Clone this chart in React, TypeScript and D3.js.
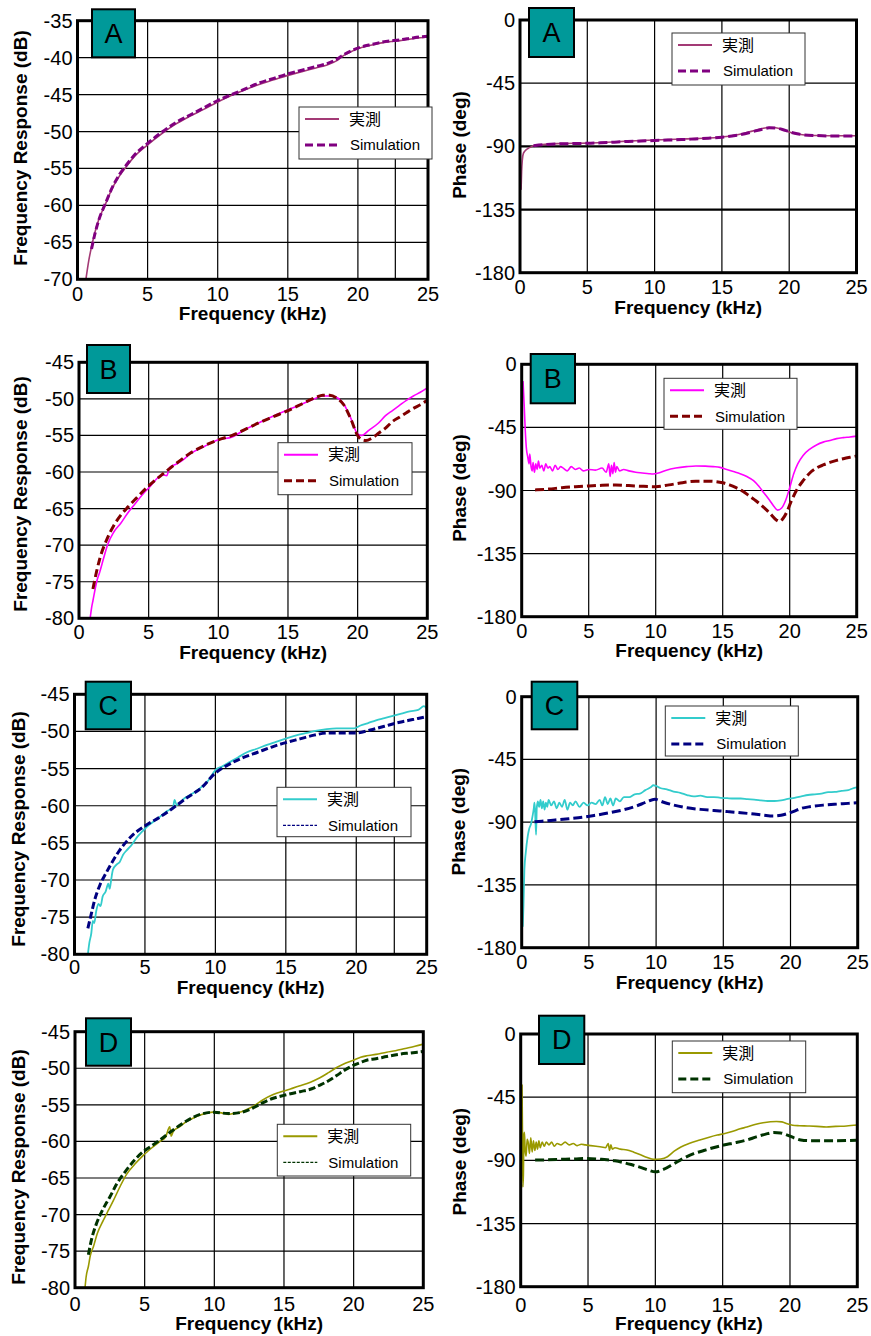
import React from 'react';
import * as d3 from 'd3';

type P = [number, number];

const freqTicks = [0, 5, 10, 15, 20, 25];
const magTicksA = [-70, -65, -60, -55, -50, -45, -40, -35];
const magTicksBCD = [-80, -75, -70, -65, -60, -55, -50, -45];
const phaseTicks = [-180, -135, -90, -45, 0];
const legendLabels = ['実測', 'Simulation'];
const xTitle = 'Frequency (kHz)';
const magTitle = 'Frequency Response (dB)';
const phaseTitle = 'Phase (deg)';

// ---------- A ----------
const aMagMeas: P[] = [[0.6,-70],[0.8,-67.5],[1.0,-65.6],[1.25,-63.6],[1.5,-62.0],[2.0,-59.8],[2.5,-57.6],[3.0,-56.0],[3.5,-54.7],[4.0,-53.5],[5.0,-51.8],[6.0,-50.3],[7.0,-49.0],[8.0,-47.95],[9.0,-47.0],[10.0,-46.0],[11.0,-45.1],[12.0,-44.3],[13.0,-43.6],[14.0,-43.0],[15.0,-42.4],[16.0,-41.9],[17.0,-41.4],[17.8,-41.0],[18.5,-40.4],[19.0,-39.7],[19.5,-39.2],[20.0,-38.8],[21.0,-38.3],[22.0,-37.9],[23.0,-37.7],[24.0,-37.4],[25.0,-37.2]];
const aMagSim: P[] = [[1.0,-65.9],[1.25,-63.8],[1.5,-62.1],[2,-59.7],[2.5,-57.5],[3,-55.8],[3.5,-54.5],[4,-53.3],[5,-51.6],[6,-50.1],[7,-48.8],[8,-47.8],[9,-46.8],[10,-45.8],[11,-45.0],[12,-44.2],[13,-43.4],[14,-42.8],[15,-42.2],[16,-41.7],[17,-41.2],[17.8,-40.8],[18.5,-40.2],[19,-39.6],[19.5,-39.1],[20,-38.7],[21,-38.2],[22,-37.8],[23,-37.6],[24,-37.3],[25,-37.1]];
const aPhMeas: P[] = [[0.08,-121],[0.12,-108],[0.17,-100],[0.25,-95],[0.4,-93],[0.6,-91.5],[0.8,-90.5],[1.0,-89.6],[1.5,-89.0],[2.0,-88.4],[3.0,-88.0],[4.0,-87.8],[5.0,-87.7],[6.0,-87.3],[7.0,-86.8],[8.0,-86.3],[9.0,-85.9],[10.0,-85.5],[11.0,-85.1],[12.0,-84.8],[13.0,-84.5],[14.0,-84.1],[15.0,-83.3],[15.5,-82.8],[16.0,-82.0],[16.5,-81.0],[17.0,-79.8],[17.5,-78.5],[18.0,-77.3],[18.5,-76.6],[19.0,-76.8],[19.5,-78.0],[20.0,-79.8],[20.5,-81.0],[21.0,-81.7],[22.0,-82.3],[23.0,-82.5],[24.0,-82.5],[25.0,-82.4]];
const aPhSim: P[] = [[1.0,-89.5],[2,-88.6],[3,-88.2],[4,-88],[5,-87.8],[6,-87.5],[7,-87],[8,-86.5],[9,-86.2],[10,-85.8],[11,-85.5],[12,-85.2],[13,-84.7],[14,-84.2],[15,-83.5],[16,-82.3],[17,-80.3],[17.5,-79],[18,-77.8],[18.5,-76.8],[19,-77],[19.5,-78],[20,-79.6],[20.5,-80.8],[21,-81.7],[22,-82.3],[23,-82.6],[24,-82.6],[25,-82.5]];

// ---------- B ----------
const bMagMeas: P[] = [[0.8,-80],[0.9,-78.6],[1.0,-77.6],[1.27,-75.0],[1.5,-73.6],[1.75,-71.9],[2.04,-70.0],[2.5,-68.2],[3.0,-67.0],[3.5,-65.6],[4.0,-64.4],[4.5,-63.2],[5.0,-62.2],[6.0,-60.4],[6.3,-60.5],[6.5,-59.4],[7.0,-58.9],[7.5,-58.3],[8.0,-57.5],[9.0,-56.5],[10.0,-55.6],[11.0,-55.2],[12.0,-54.1],[13.0,-53.2],[14.0,-52.3],[15.0,-51.5],[16.0,-50.7],[17.0,-49.9],[17.5,-49.6],[18.0,-49.6],[18.5,-49.8],[19.0,-50.7],[19.5,-52.6],[20.0,-54.8],[20.3,-55.0],[20.8,-54.3],[21.5,-53.3],[22.0,-52.3],[22.5,-51.6],[23.0,-50.9],[23.5,-50.2],[24.0,-49.6],[24.5,-49.1],[25.0,-48.5]];
const bMagSim: P[] = [[1.0,-76],[1.25,-73.7],[1.5,-71.8],[2.0,-69.2],[2.5,-67.3],[3.0,-65.9],[3.5,-64.8],[4.0,-63.8],[5.0,-61.9],[6.0,-60.3],[7.0,-58.8],[8.0,-57.4],[9.0,-56.4],[10.0,-55.6],[11.0,-55.0],[12.0,-54.1],[13.0,-53.2],[14.0,-52.4],[15.0,-51.6],[16.0,-50.7],[17.0,-49.8],[17.5,-49.5],[18.0,-49.5],[18.5,-49.9],[19.0,-50.8],[19.5,-52.7],[20.0,-55.0],[20.3,-55.6],[20.6,-55.7],[21.0,-55.4],[21.5,-54.7],[22.0,-54.0],[22.5,-53.1],[23.0,-52.5],[23.5,-51.9],[24.0,-51.3],[24.5,-50.8],[25.0,-50.2]];
const bPhMeas: P[] = [[0.1,-12],[0.18,-28],[0.26,-46],[0.35,-60],[0.45,-66],[0.55,-71],[0.6,-64],[0.7,-73],[0.78,-76],[0.85,-70],[0.95,-77],[1.05,-71],[1.15,-75],[1.25,-69],[1.35,-74],[1.5,-72],[1.65,-76],[1.8,-71],[1.95,-74],[2.1,-73],[2.3,-76],[2.5,-72],[2.7,-75],[2.9,-73],[3.1,-74],[3.4,-76],[3.7,-73],[4.0,-75],[4.3,-74],[4.6,-76],[5.0,-75],[5.5,-75.5],[6.0,-74],[6.3,-77],[6.5,-71],[6.6,-80],[6.7,-72],[6.8,-78],[6.9,-70],[7.0,-77],[7.1,-73],[7.3,-76],[7.6,-75],[8.0,-76],[8.5,-77],[9.0,-77.5],[9.5,-78],[9.8,-78.2],[10.2,-77.5],[10.8,-75.5],[11.5,-74],[12.3,-73],[13.0,-72.5],[13.7,-72.6],[14.3,-73],[14.8,-73.5],[15.3,-75],[15.8,-76.5],[16.3,-78],[16.8,-80],[17.3,-83],[17.7,-87],[18.1,-92],[18.5,-97],[18.8,-101],[19.1,-104],[19.4,-102.5],[19.7,-97],[20.0,-88],[20.3,-78],[20.6,-71],[21.0,-65],[21.5,-60.5],[22.0,-57.5],[22.5,-55.5],[23.0,-54.3],[23.5,-53],[24.0,-52.3],[24.5,-51.8],[25.0,-51.2]];
const bPhSim: P[] = [[1.0,-89.6],[2,-89],[3,-88],[4,-87.3],[5,-86.8],[6,-86.3],[7,-86.1],[8,-86.5],[9,-87],[10,-87.3],[11,-86],[12,-84.4],[13,-83.4],[14,-83.4],[15,-84.5],[15.5,-86],[16,-88],[16.5,-90.5],[17,-94],[17.5,-97.5],[18,-101.5],[18.5,-106],[19.0,-111],[19.2,-112],[19.5,-110],[19.8,-105],[20.1,-98],[20.5,-90],[21,-83],[21.5,-77.5],[22,-74],[22.5,-71.8],[23,-70],[23.5,-68.5],[24,-67.3],[24.5,-66.3],[25,-65.4]];

// ---------- C ----------
const cMagMeas: P[] = [[0.95,-80],[1.05,-78.5],[1.19,-77.2],[1.3,-75.5],[1.4,-75.8],[1.54,-74.2],[1.7,-73.2],[1.85,-73.5],[2.0,-72.2],[2.2,-71.6],[2.4,-70.5],[2.5,-71.2],[2.6,-70],[2.73,-68.6],[3.0,-67.9],[3.2,-67.6],[3.45,-66.6],[3.7,-66.0],[4.0,-65.4],[4.16,-65],[4.5,-64.1],[4.8,-63.5],[5.1,-62.9],[5.5,-62.3],[6.06,-61.5],[6.5,-60.8],[7.0,-60.2],[7.1,-59.2],[7.25,-59.9],[7.8,-59],[8.44,-58.3],[9.0,-57.5],[9.5,-56.6],[10.0,-55.2],[10.5,-54.7],[11.05,-54.1],[11.6,-53.5],[12.24,-52.8],[13.0,-52.3],[13.66,-51.8],[14.3,-51.4],[15.1,-50.9],[15.8,-50.5],[16.5,-50.2],[17.2,-49.9],[17.9,-49.7],[18.6,-49.6],[19.2,-49.6],[19.84,-49.6],[20.3,-49.2],[20.8,-48.9],[21.4,-48.5],[22.0,-48.2],[22.6,-47.9],[23.2,-47.6],[23.8,-47.3],[24.4,-47.1],[24.8,-46.6],[25.0,-46.9]];
const cMagSim: P[] = [[0.95,-76.5],[1.2,-74.5],[1.43,-72.7],[1.8,-70.7],[2.26,-69.0],[2.7,-67.5],[3.2,-66.0],[3.7,-64.8],[4.16,-63.9],[5.1,-62.6],[6.0,-61.6],[7.0,-60.3],[8.0,-58.9],[9.0,-57.6],[10.0,-55.6],[11.0,-54.4],[12.0,-53.5],[13.0,-52.8],[14.0,-52.1],[15.0,-51.5],[16.0,-51.0],[17.0,-50.5],[18.0,-50.2],[19.0,-50.2],[20.0,-50.2],[21.0,-49.8],[22.0,-49.3],[23.0,-48.8],[24.0,-48.4],[25.0,-48.0]];
const cPhMeas: P[] = [[0.08,-165],[0.13,-150],[0.2,-124],[0.3,-112],[0.45,-100],[0.55,-95],[0.7,-91],[0.8,-86],[0.9,-80],[0.95,-76],[1.0,-83],[1.07,-99],[1.12,-80],[1.2,-75],[1.3,-79],[1.4,-74],[1.5,-80],[1.6,-75],[1.7,-81],[1.8,-76],[1.9,-79],[2.0,-74],[2.2,-78],[2.4,-75],[2.6,-80],[2.8,-76],[3.0,-79],[3.2,-74],[3.4,-81],[3.6,-76],[3.8,-78],[4.0,-75],[4.3,-79],[4.6,-76],[4.9,-78],[5.2,-76],[5.5,-77],[5.8,-74],[6.0,-78],[6.2,-72],[6.4,-77],[6.6,-73],[6.8,-78],[7.0,-73],[7.3,-75],[7.6,-72],[8.0,-72],[8.4,-70],[8.8,-69.5],[9.2,-67],[9.6,-65],[9.8,-63.5],[10.0,-64],[10.3,-65.5],[10.8,-66.5],[11.3,-68],[11.8,-69],[12.3,-70.5],[12.8,-71.5],[13.3,-71],[13.8,-72],[14.3,-72],[14.8,-72.5],[15.3,-72.8],[15.8,-73],[16.3,-73],[16.8,-73.5],[17.3,-73.8],[17.8,-74.3],[18.3,-74.8],[18.8,-74.8],[19.3,-74.3],[19.8,-73.3],[20.3,-72.5],[20.8,-71.5],[21.3,-70.5],[21.8,-70],[22.3,-69.5],[22.8,-68.5],[23.3,-68.3],[23.8,-67.5],[24.3,-67],[24.7,-65.5],[25.0,-65]];
const cPhSim: P[] = [[0.95,-89.6],[1.5,-89.3],[2.5,-88.4],[3.5,-87.5],[4.5,-86.5],[5.5,-85],[6.5,-83.3],[7.5,-81.3],[8.5,-78.5],[9.3,-75.5],[9.9,-73.6],[10.5,-75.5],[11.3,-77.7],[12.3,-79.7],[13.3,-80.8],[14.3,-81.6],[15.3,-82.4],[16.3,-83.2],[17.3,-84.2],[18.0,-85],[18.7,-85.6],[19.3,-85],[19.8,-83.7],[20.3,-82],[20.8,-80.1],[21.5,-78.8],[22.5,-77.7],[23.5,-77],[24.3,-76.5],[25,-76]];

// ---------- D ----------
const dMagMeas: P[] = [[0.72,-80],[0.8,-78.5],[0.96,-77.1],[1.1,-75.6],[1.32,-74.4],[1.6,-72.6],[2.03,-70.8],[2.4,-69.4],[2.75,-68.1],[3.2,-66.3],[3.7,-64.5],[4.3,-63.1],[4.9,-61.9],[5.5,-60.9],[6.1,-60.0],[6.5,-59.4],[6.8,-58.0],[6.9,-59.3],[7.06,-58.6],[7.5,-58.0],[8.0,-57.3],[8.5,-56.8],[9.0,-56.4],[9.5,-56.1],[9.93,-56.0],[10.5,-56.1],[11.0,-56.3],[11.36,-56.2],[12.0,-55.9],[12.8,-55.2],[13.5,-54.3],[14.23,-53.6],[15.0,-53.1],[15.5,-52.8],[16.15,-52.4],[16.9,-51.9],[17.58,-51.3],[18.2,-50.6],[18.78,-49.9],[19.4,-49.3],[19.98,-48.9],[20.5,-48.5],[20.93,-48.3],[21.6,-48.1],[22.37,-47.8],[23.0,-47.6],[23.7,-47.3],[24.4,-47.0],[25.0,-46.7]];
const dMagSim: P[] = [[0.96,-75.5],[1.2,-73.3],[1.55,-71.2],[2.0,-69.3],[2.5,-67.6],[3.0,-65.8],[3.7,-63.9],[4.3,-62.5],[4.9,-61.4],[5.5,-60.6],[6.1,-59.8],[7.0,-58.5],[8.0,-57.2],[9.0,-56.3],[10.0,-56.0],[11.0,-56.2],[12.0,-56.0],[12.8,-55.4],[13.5,-54.7],[14.23,-54.1],[15.0,-53.7],[16.15,-53.2],[17.0,-52.8],[17.58,-52.3],[18.2,-51.7],[18.78,-51.0],[19.4,-50.2],[19.98,-49.6],[20.5,-49.2],[20.93,-48.9],[21.6,-48.7],[22.37,-48.4],[23.2,-48.1],[24.1,-47.9],[25.0,-47.7]];
const dPhMeas: P[] = [[0.1,-36],[0.13,-70],[0.16,-109],[0.2,-100],[0.24,-72],[0.28,-70],[0.33,-83],[0.4,-87],[0.48,-75],[0.57,-78],[0.65,-85],[0.75,-74],[0.85,-84],[0.95,-76],[1.05,-83],[1.15,-77],[1.25,-82],[1.35,-76],[1.45,-81],[1.6,-77],[1.75,-80],[1.9,-77],[2.1,-79],[2.3,-77],[2.5,-80],[2.7,-78],[3.0,-79],[3.3,-77],[3.6,-79],[3.9,-78],[4.2,-79.5],[4.5,-78.5],[4.8,-79],[5.2,-79.5],[5.6,-80],[6.0,-80.5],[6.3,-81],[6.5,-78],[6.6,-83],[6.7,-79],[6.8,-82],[7.0,-81],[7.4,-82],[7.9,-82.6],[8.4,-84.2],[8.9,-86],[9.4,-88],[9.9,-89.3],[10.4,-89],[10.9,-87.4],[11.4,-83.5],[11.9,-80.5],[12.5,-78],[13.3,-75.5],[14.0,-73.5],[14.6,-72],[15.1,-71],[15.7,-69.5],[16.3,-67.5],[16.8,-66.3],[17.4,-64.5],[18.0,-63.2],[18.55,-62.5],[19.0,-62.3],[19.4,-62.6],[19.8,-64],[20.2,-65],[20.7,-65.3],[21.3,-65.5],[22,-65.8],[22.7,-66.2],[23.4,-65.8],[24.2,-65.5],[25,-64.8]];
const dPhSim: P[] = [[1.07,-89.8],[2,-89.6],[3,-89.3],[4,-89],[4.9,-88.6],[6,-89.3],[7,-90.3],[7.6,-91.5],[8.2,-93],[8.9,-95],[9.5,-97],[10,-98.2],[10.6,-96.5],[11.36,-92.5],[12.1,-88.5],[12.85,-85.2],[13.6,-83],[14.3,-81],[15.08,-79.1],[15.9,-77.5],[16.8,-75.5],[17.5,-73.3],[18.2,-71.3],[18.8,-70.2],[19.3,-70.5],[19.8,-72],[20.3,-74],[20.8,-75.5],[21.5,-76],[22.5,-76],[23.5,-76],[25,-75.7]];

const colors = {
  A: { meas: '#A33A75', sim: '#800080' },
  B: { meas: '#FF00FF', sim: '#800000' },
  C: { meas: '#33CCCC', sim: '#000080' },
  D: { meas: '#999900', sim: '#003300' },
};

type Cfg = {
  letter: 'A' | 'B' | 'C' | 'D';
  kind: 'mag' | 'phase';
  x0: number; x1: number; y0: number; y1: number;
  yDomain: [number, number];
  yTicks: number[];
  meas: P[]; sim: P[];
  label: [number, number, number, number];
  legend: [number, number, number, number];
  yTitle: [number, number];
  xTickDy: number; xTitleDy: number;
  extraX?: number[];
  thickY?: number[];
  thinLegend?: boolean;
  measW: number;
  simDash: string;
};

const panels: Cfg[] = [
  { letter: 'A', kind: 'mag', x0: 77.5, x1: 428, y0: 20.7, y1: 279.3, yDomain: [-70, -35], yTicks: magTicksA, meas: aMagMeas, sim: aMagSim, label: [92, 9.3, 43, 48], legend: [299, 107, 133, 52], yTitle: [27, 148], xTickDy: 22, xTitleDy: 41, extraX: [22.67], measW: 1.6, simDash: '7,3' },
  { letter: 'A', kind: 'phase', x0: 520, x1: 856.5, y0: 20, y1: 272.7, yDomain: [-180, 0], yTicks: phaseTicks, meas: aPhMeas, sim: aPhSim, label: [529, 8, 45, 49], legend: [672, 33, 133, 52], yTitle: [465.5, 145], xTickDy: 21, xTitleDy: 41, thickY: [-90, -135], measW: 1.6, simDash: '9,4' },
  { letter: 'B', kind: 'mag', x0: 79, x1: 427.3, y0: 362.3, y1: 618.3, yDomain: [-80, -45], yTicks: magTicksBCD, meas: bMagMeas, sim: bMagSim, label: [87, 345, 43, 48], legend: [278, 442.7, 134, 52], yTitle: [26.5, 494], xTickDy: 21, xTitleDy: 41, measW: 1.6, simDash: '8,4' },
  { letter: 'B', kind: 'phase', x0: 521.7, x1: 856.7, y0: 364.3, y1: 616.7, yDomain: [-180, 0], yTicks: phaseTicks, meas: bPhMeas, sim: bPhSim, label: [530.7, 354, 44.3, 49.3], legend: [664, 378.3, 133, 51], yTitle: [466.3, 488], xTickDy: 21, xTitleDy: 40.5, measW: 1.6, simDash: '9,4' },
  { letter: 'C', kind: 'mag', x0: 74.5, x1: 426.7, y0: 694.3, y1: 954.3, yDomain: [-80, -45], yTicks: magTicksBCD, meas: cMagMeas, sim: cMagSim, label: [85.7, 681.7, 45.3, 47.6], legend: [277, 787.3, 134, 49.4], yTitle: [25.3, 829], xTickDy: 20, xTitleDy: 39.5, extraX: [22.7], thinLegend: true, measW: 1.8, simDash: '7,3' },
  { letter: 'C', kind: 'phase', x0: 521.7, x1: 857.7, y0: 696.7, y1: 947.7, yDomain: [-180, 0], yTicks: phaseTicks, meas: cPhMeas, sim: cPhSim, label: [531.7, 681.7, 45.6, 47.6], legend: [665.3, 706, 133, 50], yTitle: [465.3, 821.7], xTickDy: 21, xTitleDy: 41, measW: 1.8, simDash: '9,4' },
  { letter: 'D', kind: 'mag', x0: 75, x1: 423.3, y0: 1031.7, y1: 1287.7, yDomain: [-80, -45], yTicks: magTicksBCD, meas: dMagMeas, sim: dMagSim, label: [86, 1018.3, 45, 47.4], legend: [277.3, 1124.3, 133.4, 51.7], yTitle: [25.3, 1167], xTickDy: 23, xTitleDy: 42, thinLegend: true, measW: 1.6, simDash: '7,3' },
  { letter: 'D', kind: 'phase', x0: 520.7, x1: 857.3, y0: 1034, y1: 1286.7, yDomain: [-180, 0], yTicks: phaseTicks, meas: dPhMeas, sim: dPhSim, label: [539, 1015.7, 45.3, 48.3], legend: [672.3, 1041, 133.4, 51.7], yTitle: [466, 1161.7], xTickDy: 25, xTitleDy: 43.5, measW: 1.6, simDash: '9,4' },
];

const FONT = '"Liberation Sans", Arial, Helvetica, sans-serif';
const CJK = '"Noto Sans CJK JP", "Noto Sans CJK SC", sans-serif';

function Panel({ cfg, idx }: { cfg: Cfg; idx: number }) {
  const x = d3.scaleLinear().domain([0, 25]).range([cfg.x0, cfg.x1]);
  const y = d3.scaleLinear().domain(cfg.yDomain).range([cfg.y1, cfg.y0]);
  const line = d3.line<P>().x(d => x(d[0])).y(d => y(d[1])).curve(d3.curveMonotoneX);
  const col = colors[cfg.letter];
  const clipId = `clip-${idx}`;
  const [lx, ly, lw, lh] = cfg.legend;
  const [bx, by, bw, bh] = cfg.label;
  const title = cfg.kind === 'mag' ? magTitle : phaseTitle;
  return (
    <g>
      <defs>
        <clipPath id={clipId}>
          <rect x={cfg.x0} y={cfg.y0} width={cfg.x1 - cfg.x0} height={cfg.y1 - cfg.y0} />
        </clipPath>
      </defs>
      {freqTicks.map(t => (
        <line key={'gx' + t} x1={x(t)} x2={x(t)} y1={cfg.y0} y2={cfg.y1} stroke="#000" strokeWidth={1.2} />
      ))}
      {(cfg.extraX || []).map(t => (
        <line key={'ex' + t} x1={x(t)} x2={x(t)} y1={cfg.y0} y2={cfg.y1} stroke="#000" strokeWidth={1.2} />
      ))}
      {cfg.yTicks.map(t => (
        <line key={'gy' + t} x1={cfg.x0} x2={cfg.x1} y1={y(t)} y2={y(t)} stroke="#000"
          strokeWidth={(cfg.thickY || []).includes(t) ? 2.2 : 1.2} />
      ))}
      <g clipPath={`url(#${clipId})`}>
        <path d={line(cfg.meas) || ''} fill="none" stroke={col.meas} strokeWidth={cfg.measW} strokeLinejoin="round" />
        <path d={line(cfg.sim) || ''} fill="none" stroke={col.sim} strokeWidth={3} strokeDasharray={cfg.simDash} />
      </g>
      <rect x={cfg.x0} y={cfg.y0} width={cfg.x1 - cfg.x0} height={cfg.y1 - cfg.y0} fill="none" stroke="#000" strokeWidth={3} />
      {cfg.yTicks.map(t => (
        <text key={'yl' + t} x={cfg.x0 - 5} y={y(t) + 7} textAnchor="end" fontFamily={FONT} fontSize={20} fill="#000">{t}</text>
      ))}
      {freqTicks.map(t => (
        <text key={'xl' + t} x={x(t)} y={cfg.y1 + cfg.xTickDy} textAnchor="middle" fontFamily={FONT} fontSize={20} fill="#000">{t}</text>
      ))}
      <text x={(cfg.x0 + cfg.x1) / 2} y={cfg.y1 + cfg.xTitleDy} textAnchor="middle" fontFamily={FONT} fontSize={19} fontWeight="bold" fill="#000">{xTitle}</text>
      <text transform={`translate(${cfg.yTitle[0]},${cfg.yTitle[1]}) rotate(-90)`} textAnchor="middle" fontFamily={FONT} fontSize={19} fontWeight="bold" fill="#000">{title}</text>
      <rect x={lx} y={ly} width={lw} height={lh} fill="#fff" stroke="#333" strokeWidth={1} />
      <line x1={lx + 6} x2={lx + 40} y1={ly + 12} y2={ly + 12} stroke={col.meas} strokeWidth={2} />
      <text x={lx + 50} y={ly + 12} dy="0.36em" fontFamily={CJK} fontSize={16} fill="#000">{legendLabels[0]}</text>
      {cfg.thinLegend ? (
        <line x1={lx + 6} x2={lx + 40} y1={ly + 38} y2={ly + 38} stroke={col.sim} strokeWidth={1.3} strokeDasharray="3,1.5" />
      ) : (
        <line x1={lx + 6} x2={lx + 40} y1={ly + 38} y2={ly + 38} stroke={col.sim} strokeWidth={3} strokeDasharray="8,4" />
      )}
      <text x={lx + 51} y={ly + 38} dy="0.36em" fontFamily={FONT} fontSize={15} fill="#000">{legendLabels[1]}</text>
      <rect x={bx} y={by} width={bw} height={bh} fill="#009999" stroke="#000" strokeWidth={2} />
      <text x={bx + bw / 2} y={by + bh / 2 + 9.5} textAnchor="middle" fontFamily={FONT} fontSize={27} fill="#000">{cfg.letter}</text>
    </g>
  );
}

export default function App() {
  return (
    <svg width={871} height={1336} viewBox="0 0 871 1336"
      style={{ position: 'absolute', left: 0, top: 0, background: '#fff' }}>
      <rect x={0} y={0} width={871} height={1336} fill="#fff" />
      {panels.map((p, i) => <Panel key={i} cfg={p} idx={i} />)}
    </svg>
  );
}
